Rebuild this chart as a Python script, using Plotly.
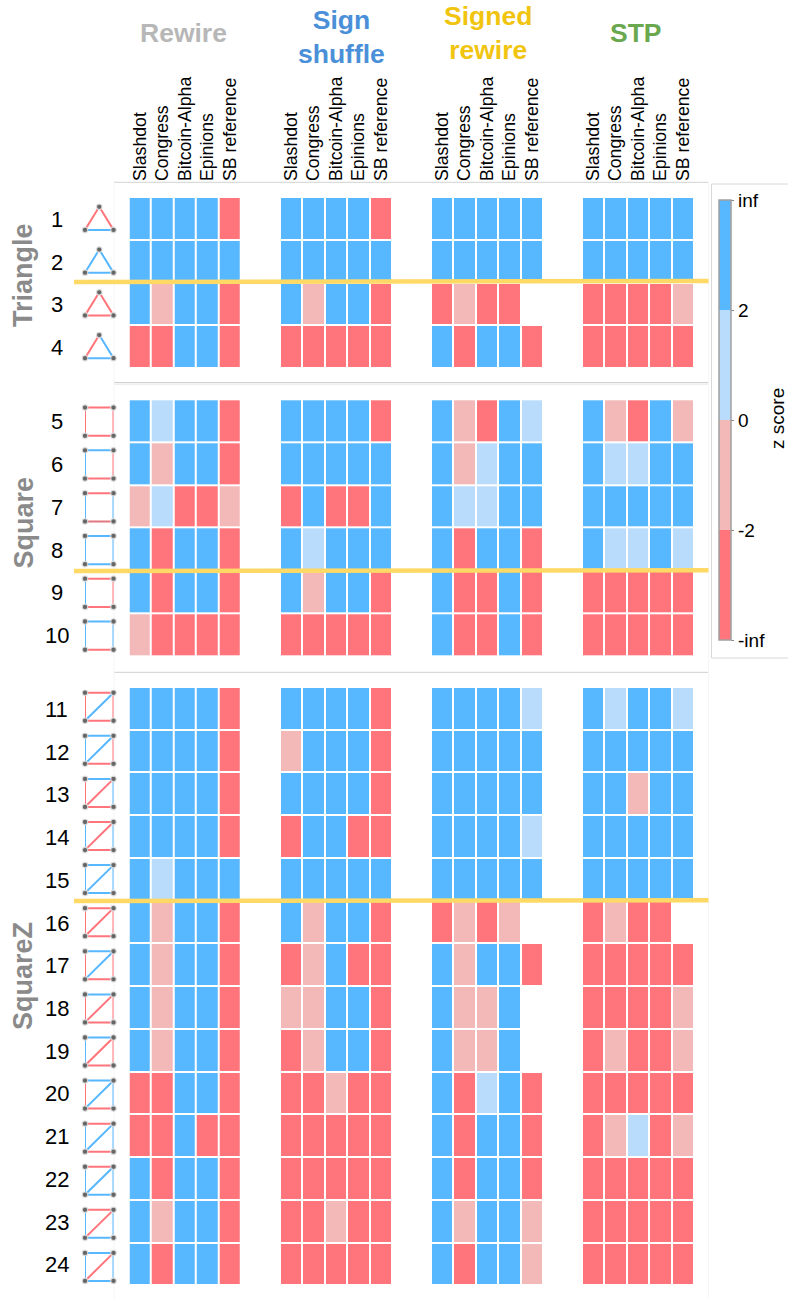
import plotly.graph_objects as go

W, H = 788, 1299
FONT = "Liberation Sans"

networks = ["Slashdot", "Congress", "Bitcoin-Alpha", "Epinions", "SB reference"]
row_numbers = list(range(1, 25))
group_names = ["Triangle", "Square", "SquareZ"]
group_rows = [(1, 4), (5, 10), (11, 24)]
colorbar_ticks = [-4, -2, 0, 2, 4]
colorbar_labels = ["-inf", "-2", "0", "2", "inf"]

# B: z>2, b: 0..2, r: -2..0, R: z<-2, .: no value
rewire = ["BBBBR", "BBBBB", "BrBBR", "RRBBR",
          "BbBBR", "BrBBR", "rbRRr", "BRBBR", "BRBBR", "rRRRR",
          "BBBBR", "BBBBR", "BBBBR", "BBBBR", "BbBBB", "BrBBR", "BrBBR", "BrBBR", "BrBBR",
          "RRBBR", "RRBRR", "BRBBR", "BrBBR", "BRBBR"]
sign_shuffle = ["BBBBR", "BBBBB", "BrBBR", "RRRRR",
                "BBBBR", "BBBBB", "RBRRB", "BbBBB", "BrBBR", "RRRRR",
                "BBBBR", "rBBBR", "BBBBR", "RBBRR", "BBBBB", "BrBBR", "RrBRR", "rrBBR", "RrBBR",
                "RRrRR", "RRRRR", "RRRRR", "RRrRR", "RRRRR"]
signed_rewire = ["BBBBB", "BBBBB", "RrRR.", "BRBBR",
                 "BrRBb", "BrbBB", "BbbBB", "BRBBR", "BRRBR", "BRRBR",
                 "BBBBb", "BBBBB", "BBBBB", "BBBBb", "BBBBB", "RrRr.", "BrBBR", "BrrB.", "BrrB.",
                 "BRbBR", "BRBBR", "BRBBR", "BrBBr", "BRBBr"]
stp = ["BBBBB", "BBBBB", "RRRRr", "RRRRR",
       "BrRBr", "BbbBB", "BBBBB", "BbbBb", "RRRRR", "RRRRR",
       "BbBBb", "BBBBB", "BBrBB", "BBBBB", "BBBBB", "RrRR.", "RRRRR", "RRRRr", "RrRRr",
       "RRRRR", "RrbRr", "RRRRR", "RRRRR", "RRRRR"]
panels = [rewire, sign_shuffle, signed_rewire, stp]

# Motif edge signs. Triangle: left, right, bottom. Squares: top, right, bottom, left, (diagonal)
triangle_edges = ["RRB", "BBB", "RRR", "RBB"]
square_edges = ["RRRR", "BRRB", "RBDB", "BBBB", "RRRB", "BBRB"]
squarez_edges = ["RRRRB", "BRRBB", "BBRRR", "RBRBR", "BBBBB", "RRRRR", "BRRRB", "BRRRR", "BRRBR",
                 "BBRRB", "RBRBB", "RBBBB", "RBBBR", "BBBBR"]

CODE = {"B": 3, "b": 1, "r": -1, "R": -3, ".": None}
BLUE, LBLUE, LRED, RED = "#57B7FF", "#B9DBFC", "#F3B8B8", "#FF757B"
EDGE = {"B": BLUE, "R": RED, "D": "#E2777F"}


def fx(p):
    return p / W


def fy(p):
    return 1 - p / H


x_spans = [(128.7, 241), (280, 392), (431, 543), (582, 694)]
y_spans = [(197, 368), (399.3, 656), (687, 1285.3)]

fig = go.Figure()
layout = dict(
    width=W, height=H, margin=dict(l=0, r=0, t=0, b=0, autoexpand=False),
    paper_bgcolor="white", plot_bgcolor="rgba(0,0,0,0)", showlegend=False,
    font=dict(family=FONT, color="black"),
    coloraxis=dict(
        cmin=-4, cmax=4,
        colorscale=[[0, RED], [.25, RED], [.25, LRED], [.5, LRED], [.5, LBLUE], [.75, LBLUE], [.75, BLUE], [1, BLUE]],
        colorbar=dict(
            x=fx(719), xanchor="left", xpad=0, y=fy(420), yanchor="middle", ypad=0,
            thickness=11.5, thicknessmode="pixels", len=440, lenmode="pixels",
            tickmode="array", tickvals=colorbar_ticks, ticktext=colorbar_labels,
            ticks="outside", ticklen=3, tickcolor="#888888", tickwidth=1,
            outlinecolor="#A0A0A0", outlinewidth=1.5,
            tickfont=dict(family=FONT, size=19, color="black"),
        ),
    ),
)

for i, (a, b) in enumerate(x_spans):
    key = "xaxis" if i == 0 else f"xaxis{i+1}"
    layout[key] = dict(
        domain=[fx(a), fx(b)], anchor="y", side="top", type="category", categoryorder="array",
        categoryarray=networks, tickmode="array", tickvals=networks, ticktext=networks, tickangle=-90,
        ticks="", ticklabelstandoff=15, tickfont=dict(family=FONT, size=17.7, color="black"),
        showgrid=False, zeroline=False, showline=False,
    )

for j, ((a, b), (r0, r1)) in enumerate(zip(y_spans, group_rows)):
    key = "yaxis" if j == 0 else f"yaxis{j+1}"
    layout[key] = dict(domain=[fy(b), fy(a)], range=[r1 + .5, r0 - .5], anchor="x",
                       showticklabels=False, ticks="", showgrid=False, zeroline=False, showline=False)

# Icon column, plus an overlay y axis because the SquareZ icons run on a slightly longer pitch
layout["xaxis5"] = dict(domain=[fx(85), fx(113.5)], range=[0, 1], anchor="y", visible=False)
layout["yaxis4"] = dict(domain=[fy(1288.5), fy(685.2)], range=[24.5, 10.5], anchor="x5", visible=False)
layout["yaxis5"] = dict(domain=[fy(657), fy(400.3)], range=[10.5, 4.5], anchor="x5", visible=False)

for p, panel in enumerate(panels):
    xa = "x" if p == 0 else f"x{p+1}"
    for j, (r0, r1) in enumerate(group_rows):
        ya = "y" if j == 0 else f"y{j+1}"
        rows = list(range(r0, r1 + 1))
        z = [[CODE[c] for c in panel[r - 1]] for r in rows]
        fig.add_trace(go.Heatmap(z=z, x=networks, y=rows, xaxis=xa, yaxis=ya, coloraxis="coloraxis",
                                 xgap=2, ygap=2, hoverongaps=False))


def motif_trace(rows, edges, nodes, segs, half, ya):
    xs, ys = {}, {}
    nx, ny = [], []
    for r, signs in zip(rows, edges):
        for s, (u, v) in zip(signs, segs):
            xs.setdefault(s, []).extend([nodes[u][0], nodes[v][0], None])
            ys.setdefault(s, []).extend([r + nodes[u][1] * half, r + nodes[v][1] * half, None])
        for (x, y) in nodes:
            nx.append(x)
            ny.append(r + y * half)
    for s in xs:
        fig.add_trace(go.Scatter(x=xs[s], y=ys[s], mode="lines", xaxis="x5", yaxis=ya, cliponaxis=False,
                                 line=dict(color=EDGE[s], width=2), hoverinfo="skip"))
    fig.add_trace(go.Scatter(x=nx, y=ny, mode="markers", xaxis="x5", yaxis=ya, cliponaxis=False,
                             marker=dict(color="#666666", size=5.5, line=dict(color="rgba(225,225,225,.85)", width=1.2)),
                             hoverinfo="skip"))


TRI_NODES = [(.5, -1), (0, 1), (1, 1)]
TRI_SEGS = [(0, 1), (0, 2), (1, 2)]
SQ_NODES = [(0, -1), (1, -1), (1, 1), (0, 1)]
SQ_SEGS = [(0, 1), (1, 2), (2, 3), (3, 0), (2, 3)]
SQZ_SEGS = [(0, 1), (1, 2), (2, 3), (3, 0), (3, 1)]
motif_trace(range(1, 5), triangle_edges, TRI_NODES, TRI_SEGS, 0.27, "y")
motif_trace(range(5, 11), square_edges, SQ_NODES, SQ_SEGS, 0.33, "y5")
motif_trace(range(11, 25), squarez_edges, SQ_NODES, SQZ_SEGS, 0.325, "y4")

ann = []
for r in row_numbers:
    j = 0 if r <= 4 else 1 if r <= 10 else 2
    ann.append(dict(text=str(r), xref="paper", x=fx(57), yref="y" if j == 0 else f"y{j+1}", y=r, yshift=-1,
                    xanchor="center", yanchor="middle", showarrow=False,
                    font=dict(family=FONT, size=22, color="black")))

group_y = [275, 522.5, 976]
for name, y in zip(group_names, group_y):
    ann.append(dict(text=f"<b>{name}</b>", xref="paper", yref="paper", x=fx(23), y=fy(y), textangle=-90,
                    xanchor="center", yanchor="middle", showarrow=False,
                    font=dict(family=FONT, size=27, color="#8a8a8a")))

ann.append(dict(text="z score", xref="paper", yref="paper", x=fx(778), y=fy(419), textangle=-90,
                xanchor="center", yanchor="middle", showarrow=False,
                font=dict(family=FONT, size=19, color="black")))

titles = [("Rewire", 183, 33.5, "#B7B7B7"), ("Sign<br>shuffle", 341, 37, "#4A90D9"),
          ("Signed<br>rewire", 488, 33.5, "#F1C40F"), ("STP", 636, 33, "#6AA84F")]
for text, x, y, color in titles:
    ann.append(dict(text=f"<b>{text}</b>", xref="paper", yref="paper", x=fx(x), y=fy(y),
                    xanchor="center", yanchor="middle", showarrow=False,
                    font=dict(family=FONT, size=26.5, color=color)))
layout["annotations"] = ann


def hline(x0, x1, y0, y1, color, width, layer="below"):
    return dict(type="line", xref="paper", yref="paper", x0=fx(x0), x1=fx(x1), y0=fy(y0), y1=fy(y1),
                line=dict(color=color, width=width), layer=layer)


shapes = [
    hline(114, 708.5, 182.3, 182.3, "#D2D2D2", 1),
    hline(114, 708.5, 382.7, 382.7, "#C6C6C6", 1),
    hline(114, 708.5, 384.5, 384.5, "#EEEEEE", 1),
    hline(114, 708.5, 672.3, 672.3, "#CFCFCF", 1),
    hline(114, 114, 182.3, 1299, "#F5F5F5", 1),
    hline(708.5, 708.5, 182.3, 1299, "#F5F5F5", 1),
    dict(type="rect", xref="paper", yref="paper", x0=fx(711.5), x1=fx(795), y0=fy(658), y1=fy(184),
         line=dict(color="#D8D8D8", width=1), fillcolor="white", layer="below"),
    hline(74, 708.5, 282, 281, "#FFD966", 4.5, "above"),
    hline(74, 708.5, 571, 570.2, "#FFD966", 4.5, "above"),
    hline(74, 708.5, 901, 900.2, "#FFD966", 4.5, "above"),
]
layout["shapes"] = shapes
fig.update_layout(**layout)

fig.write_html("out.html", config={"displayModeBar": False},
               post_script="document.body.style.margin='0';")
